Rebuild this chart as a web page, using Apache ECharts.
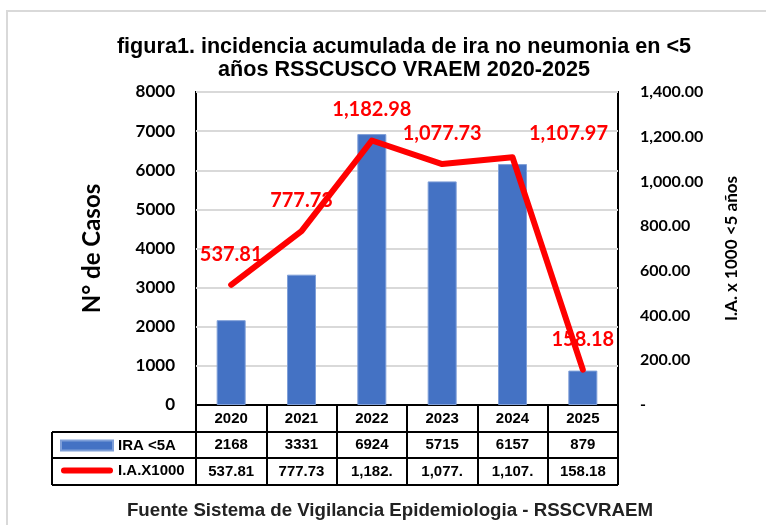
<!DOCTYPE html>
<html>
<head>
<meta charset="utf-8">
<script src="https://cdn.jsdelivr.net/npm/echarts@6/dist/echarts.min.js"></script>
<style>
  html, body { margin: 0; padding: 0; background: #fff; }
  #main { width: 766px; height: 525px; }
</style>
</head>
<body>
<div id="main"></div>
<script>
// datos
var anios = ['2020', '2021', '2022', '2023', '2024', '2025'];
var casosIRA = [2168, 3331, 6924, 5715, 6157, 879];
var tasaIA = [537.81, 777.73, 1182.98, 1077.73, 1107.97, 158.18];
// como aparecen en la tabla (cortados)
var tasaTabla = ['537.81', '777.73', '1,182.', '1,077.', '1,107.', '158.18'];

var narrow = '"Liberation Sans Narrow", "Arial Narrow", "Liberation Sans", Arial, sans-serif';
var arial = '"Liberation Sans", Arial, sans-serif';
var calibri = 'Lato, "Noto Sans", sans-serif';

// area del grafico
var gLeft = 196, gRight = 148, gTop = 92, gBottom = 120;
var W = 766, H = 525;
var yBase = H - gBottom;        // borde inferior del plot
var rowH = [27, 26, 27];        // encabezado, IRA, IA
var tablaIzq = 52;

var chart = echarts.init(document.getElementById('main'));

function fmtTasa(v) {
  if (v === 0) return '-';
  return v.toLocaleString('en-US', {minimumFractionDigits: 2, maximumFractionDigits: 2});
}

var dataLinea = tasaIA.map(function (v, i) {
  var d = {value: v};
  if (i == 4) { d.label = {offset: [56, 7]}; }
  return d;
});

var y1 = yBase + rowH[0], y2 = y1 + rowH[1], y3 = y2 + rowH[2];
var celda = {fontFamily: arial, fontWeight: 'bold', fontSize: 15, color: '#000'};

option = {
  backgroundColor: '#fff',
  title: [
    {
      text: 'figura1. incidencia acumulada de ira no neumonia en <5\naños RSSCUSCO VRAEM 2020-2025',
      left: 399,
      textAlign: 'center',
      top: 31,
      textStyle: {fontFamily: narrow, fontWeight: 'bold', fontSize: 21.6, lineHeight: 23, color: '#000'}
    },
    {
      text: 'Fuente Sistema de Vigilancia Epidemiologia - RSSCVRAEM',
      left: 385,
      textAlign: 'center',
      top: 496,
      textStyle: {fontFamily: arial, fontWeight: 'bold', fontSize: 18.7, color: '#222'}
    }
  ],
  legend: {
    orient: 'vertical',
    left: 60,
    top: y1 + 6,
    padding: 0,
    itemWidth: 52,
    itemHeight: 10,
    itemGap: 10,
    textStyle: {fontFamily: arial, fontWeight: 'bold', fontSize: 15, color: '#000'},
    data: [
      {name: 'IRA <5A', icon: 'rect'},
      {name: 'I.A.X1000', icon: 'path://M3,0 H49 A3,3 0 0 1 49,6 H3 A3,3 0 0 1 3,0 Z'}
    ]
  },
  grid: {
    left: gLeft, right: gRight, top: gTop, bottom: gBottom,
    show: true, borderColor: '#000', borderWidth: 2, backgroundColor: '#fff'
  },
  xAxis: {
    type: 'category',
    data: anios,
    axisLine: {show: true, lineStyle: {color: '#000', width: 2}},
    axisTick: {show: true, alignWithLabel: false, interval: 0, length: rowH[0] + rowH[1] + rowH[2], lineStyle: {color: '#000', width: 2}},
    axisLabel: {
      margin: 0,
      interval: 0,
      formatter: function (val, idx) {
        return '{a|' + val + '}\n{b|' + casosIRA[idx] + '}\n{c|' + tasaTabla[idx] + '}';
      },
      rich: {
        a: Object.assign({lineHeight: rowH[0], height: rowH[0]}, celda),
        b: Object.assign({lineHeight: rowH[1], height: rowH[1]}, celda),
        c: Object.assign({lineHeight: rowH[2], height: rowH[2]}, celda)
      }
    }
  },
  yAxis: [
    {
      type: 'value',
      min: 0, max: 8000, interval: 1000,
      name: 'N° de Casos',
      nameLocation: 'middle',
      nameGap: 92,
      nameTextStyle: {fontFamily: calibri, fontWeight: 'bold', fontSize: 24, color: '#000'},
      axisLine: {show: false},
      axisTick: {show: false},
      axisLabel: {margin: 21, fontFamily: calibri, fontWeight: 'bold', fontSize: 17, color: '#000', formatter: function (v) { return String(v); }},
      splitLine: {show: true, lineStyle: {color: '#d9d9d9', width: 2}}
    },
    {
      type: 'value',
      min: 0, max: 1400, interval: 200,
      name: 'I.A. x 1000 <5 años',
      nameLocation: 'middle',
      nameGap: 105,
      nameRotate: 90,
      nameTextStyle: {fontFamily: calibri, fontWeight: 'bold', fontSize: 17, color: '#000'},
      axisLine: {show: false},
      axisTick: {show: false},
      axisLabel: {margin: 22, fontFamily: calibri, fontWeight: 'bold', fontSize: 16, color: '#000', formatter: fmtTasa},
      splitLine: {show: false}
    }
  ],
  series: [
    {
      name: 'IRA <5A',
      type: 'bar',
      yAxisIndex: 0,
      barWidth: 29,
      itemStyle: {color: '#4472C4', borderColor: '#7f9fd8', borderWidth: 1},
      data: casosIRA
    },
    {
      name: 'I.A.X1000',
      type: 'line',
      yAxisIndex: 1,
      symbol: 'circle',
      symbolSize: 1,
      showSymbol: true,
      lineStyle: {color: '#FF0000', width: 6, cap: 'round', join: 'round'},
      itemStyle: {color: '#FF0000'},
      label: {
        show: true,
        position: 'top',
        distance: 20,
        fontFamily: calibri,
        fontWeight: 'bold',
        fontSize: 20,
        color: '#FF0000',
        formatter: function (p) { return fmtTasa(p.value); }
      },
      z: 3,
      data: dataLinea
    }
  ],
  graphic: [
    // borde exterior gris
    {type: 'rect', silent: true, z: -10, shape: {x: 7, y: 11, width: 900, height: 700}, style: {fill: null, stroke: '#d9d9d9', lineWidth: 2}},
    // lineas de la tabla
    {type: 'line', shape: {x1: tablaIzq, y1: y1, x2: W - gRight, y2: y1}, style: {stroke: '#000', lineWidth: 2}},
    {type: 'line', shape: {x1: tablaIzq, y1: y2, x2: W - gRight, y2: y2}, style: {stroke: '#000', lineWidth: 2}},
    {type: 'line', shape: {x1: tablaIzq, y1: y3, x2: W - gRight, y2: y3}, style: {stroke: '#000', lineWidth: 2}},
    {type: 'line', shape: {x1: tablaIzq, y1: y1, x2: tablaIzq, y2: y3}, style: {stroke: '#000', lineWidth: 2}}
  ]
};

chart.setOption(option);
</script>
</body>
</html>
